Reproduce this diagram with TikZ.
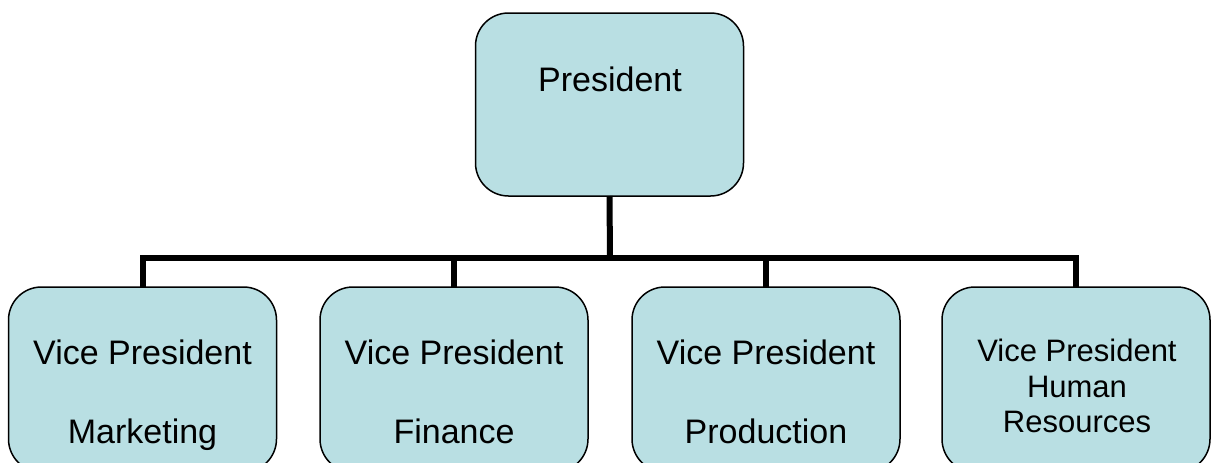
\documentclass[tikz,border=0pt]{standalone}
\usepackage{fontspec}
\setmainfont{Liberation Sans}
\definecolor{boxfill}{RGB}{185,223,227}
\begin{document}
\begin{tikzpicture}[x=1pt,y=-1pt,
  orgbox/.style={draw=black, line width=1.5pt, fill=boxfill, rounded corners=33pt,
    minimum width=268pt, inner sep=0pt, outer sep=0pt},
  vpbox/.style={orgbox, minimum height=185pt},
  conn/.style={draw=black, line width=6pt},
  lbl/.style={anchor=base, inner sep=0pt, font=\fontsize{34}{40}\selectfont},
  lblsmall/.style={anchor=base, inner sep=0pt, font=\fontsize{31}{36}\selectfont}]
  \clip (0,0) rectangle (1216,463);
  \fill[white] (0,0) rectangle (1216,463);

  % top-level box
  \node[orgbox, minimum height=183pt] (pres) at (609.5,104.5) {};
  \node[lbl] (presT) at (610,91) {President};

  % second-level boxes
  \node[vpbox] (vp1) at (142.5,379.5) {};
  \node[vpbox] (vp2) at (454,379.5) {};
  \node[vpbox] (vp3) at (766,379.5) {};
  \node[vpbox] (vp4) at (1076,379.5) {};

  % connectors
  \coordinate (bus) at (610,258);
  \draw[conn] (pres.south) -- (bus);
  \draw[conn] (vp1.north) |- (bus);
  \draw[conn] (vp4.north) |- (bus);
  \draw[conn] (vp2.north) |- (bus);
  \draw[conn] (vp3.north) |- (bus);

  % labels
  \node[lbl] (vp1a) at (142.5,364) {Vice President};
  \node[lbl] (vp1b) at (142.5,443) {Marketing};
  \node[lbl] (vp2a) at (454,364) {Vice President};
  \node[lbl] (vp2b) at (454,443) {Finance};
  \node[lbl] (vp3a) at (766,364) {Vice President};
  \node[lbl] (vp3b) at (766,443) {Production};
  \node[lblsmall] (vp4a) at (1077,361) {Vice President};
  \node[lblsmall] (vp4b) at (1077,397) {Human};
  \node[lblsmall] (vp4c) at (1077,432) {Resources};
\end{tikzpicture}
\end{document}
